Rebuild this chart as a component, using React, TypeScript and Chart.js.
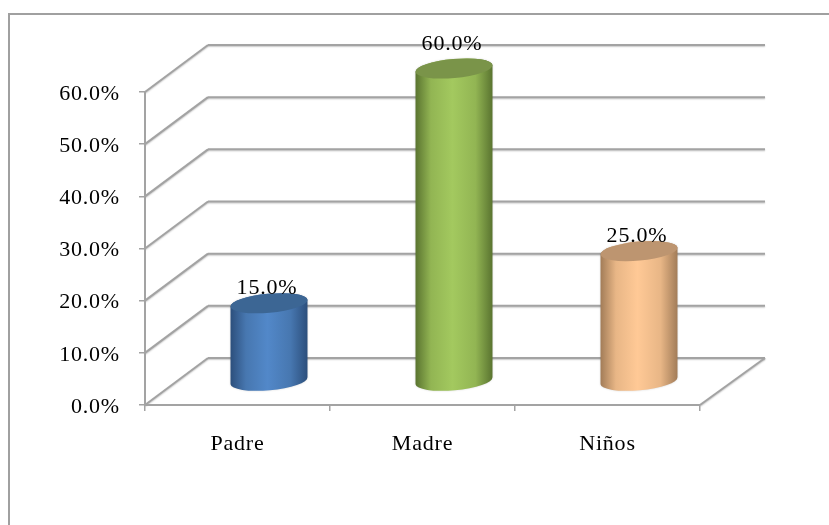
import React, { useEffect, useRef } from "react";
import { Chart, registerables } from "chart.js";

Chart.register(...registerables);

const categories = ["Padre", "Madre", "Niños"];
const shares = [15, 60, 25];
const shareTicksMax = 60;
const shareTickStep = 10;

// Body colours of each cylinder: rim, shoulder, centre highlight, top cap.
const bodyRims = ["#2c4f7c", "#5a7430", "#a27c58"];
const bodyShoulders = ["#4777b0", "#92b553", "#e8b686"];
const bodyCentres = ["#5288c9", "#a3c95f", "#ffc996"];
const capColours = ["#3c6694", "#7a9449", "#bd9570"];

const WIDTH = 829;
const HEIGHT = 525;
const AREA = { left: 145, right: 700, top: 92, bottom: 405 };
const DEPTH = { x: 63, y: -47 };
const LINE = "#a3a3a3";
const TEXT_FONT = '22px "Liberation Serif"';

const softLine = (ctx: CanvasRenderingContext2D, x0: number, y0: number, x1: number, y1: number) => {
  ctx.save();
  ctx.strokeStyle = LINE;
  ctx.lineWidth = 2;
  ctx.shadowColor = "rgba(0,0,0,0.22)";
  ctx.shadowBlur = 1.5;
  ctx.shadowOffsetY = 1;
  ctx.beginPath();
  ctx.moveTo(x0, y0);
  ctx.lineTo(x1, y1);
  ctx.stroke();
  ctx.restore();
};

// Outer frame, back wall, side wall and floor of the 3D box.
const boxPlugin = {
  id: "box",
  beforeDraw(chart: any) {
    const { ctx, scales } = chart;
    ctx.letterSpacing = "0.8px";
    ctx.save();
    ctx.fillStyle = "#ffffff";
    ctx.fillRect(0, 0, WIDTH, HEIGHT);
    ctx.strokeStyle = "#a0a0a0";
    ctx.lineWidth = 2;
    ctx.beginPath();
    ctx.moveTo(WIDTH, 14);
    ctx.lineTo(9, 14);
    ctx.lineTo(9, HEIGHT);
    ctx.stroke();
    ctx.restore();
    const left = scales.x.left;
    const right = scales.x.right;
    for (const tick of scales.y.ticks) {
      const y = scales.y.getPixelForValue(tick.value);
      softLine(ctx, left, y, left + DEPTH.x, y + DEPTH.y);
      softLine(ctx, left + DEPTH.x, y + DEPTH.y, right + DEPTH.x + 2, y + DEPTH.y);
    }
    const floor = scales.y.getPixelForValue(0);
    softLine(ctx, right, floor, right + DEPTH.x + 2, floor + DEPTH.y);
  },
};

// Replaces the flat bars with tilted cylinders standing halfway into the box.
const cylinderPlugin = {
  id: "cylinder",
  beforeDatasetsDraw(chart: any) {
    const { ctx } = chart;
    const meta = chart.getDatasetMeta(0);
    const tilt = -0.09;
    const capRadius = 9.5;
    meta.data.forEach((bar: any, i: number) => {
      const cx = bar.x + DEPTH.x / 2;
      const top = bar.y + DEPTH.y / 2;
      const base = bar.base + DEPTH.y / 2;
      const half = bar.width / 2;
      const major = half / Math.cos(tilt);

      const gradient = ctx.createLinearGradient(cx - half, 0, cx + half, 0);
      gradient.addColorStop(0, bodyRims[i]);
      gradient.addColorStop(0.2, bodyShoulders[i]);
      gradient.addColorStop(0.48, bodyCentres[i]);
      gradient.addColorStop(0.78, bodyShoulders[i]);
      gradient.addColorStop(1, bodyRims[i]);

      ctx.save();
      ctx.shadowColor = "rgba(0,0,0,0.18)";
      ctx.shadowBlur = 2;
      ctx.beginPath();
      ctx.ellipse(cx, base, major, capRadius, tilt, Math.PI, 0, true);
      ctx.ellipse(cx, top, major, capRadius, tilt, 0, Math.PI, true);
      ctx.closePath();
      ctx.fillStyle = gradient;
      ctx.fill();
      ctx.shadowColor = "transparent";

      ctx.beginPath();
      ctx.ellipse(cx, top, major, capRadius, tilt, 0, Math.PI * 2);
      ctx.fillStyle = capColours[i];
      ctx.fill();

      // The tallest bar's label sits higher to clear its cap.
      const lift = shares[i] === shareTicksMax ? 24 : 15;
      ctx.font = TEXT_FONT;
      ctx.fillStyle = "#000000";
      ctx.textAlign = "center";
      ctx.textBaseline = "middle";
      ctx.fillText(`${shares[i].toFixed(1)}%`, cx - 2, top - lift);
      ctx.restore();
    });
    return false;
  },
};

export default function App() {
  const ref = useRef<HTMLCanvasElement>(null);

  useEffect(() => {
    const chart = new Chart(ref.current!, {
      type: "bar",
      data: {
        labels: categories,
        datasets: [
          {
            data: shares,
            backgroundColor: bodyCentres,
            barPercentage: 0.416,
            categoryPercentage: 1,
          },
        ],
      },
      options: {
        animation: false,
        responsive: false,
        layout: { padding: { left: 0, right: WIDTH - AREA.right, top: AREA.top, bottom: 0 } },
        plugins: { legend: { display: false }, tooltip: { enabled: false } },
        scales: {
          x: {
            afterFit: (s: any) => {
              s.height = HEIGHT - AREA.bottom;
            },
            border: { color: LINE, width: 2 },
            grid: { drawOnChartArea: false, color: LINE, tickLength: 6, lineWidth: 1.5, offset: true },
            ticks: { color: "#000000", font: { family: "Liberation Serif", size: 22 }, padding: 20, maxRotation: 0 },
          },
          y: {
            min: 0,
            max: shareTicksMax,
            afterFit: (s: any) => {
              s.width = AREA.left;
            },
            border: { color: LINE, width: 2 },
            grid: { drawOnChartArea: false, color: LINE, tickLength: 6, lineWidth: 1.5 },
            ticks: {
              stepSize: shareTickStep,
              color: "#000000",
              font: { family: "Liberation Serif", size: 22 },
              padding: 19,
              labelOffset: 2,
              callback: (v: any) => `${Number(v).toFixed(1)}%`,
            },
          },
        },
      },
      plugins: [boxPlugin, cylinderPlugin],
    } as any);
    return () => chart.destroy();
  }, []);

  return (
    <div style={{ position: "absolute", left: 0, top: 0, width: WIDTH, height: HEIGHT }}>
      <canvas ref={ref} width={WIDTH} height={HEIGHT} style={{ display: "block" }} />
    </div>
  );
}
